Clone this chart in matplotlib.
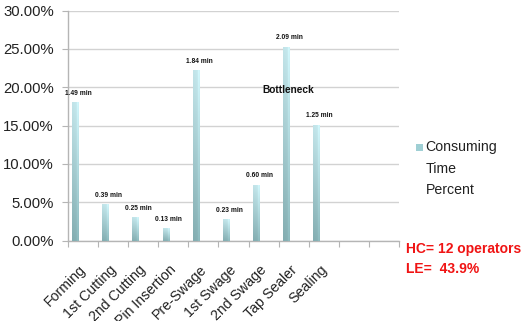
import numpy as np
import matplotlib
matplotlib.use("Agg")
import matplotlib.pyplot as plt
from matplotlib.patches import Rectangle
from matplotlib.ticker import FixedLocator, FuncFormatter

# Station names (two trailing empty slots on the category axis)
stations = ["Forming", "1st Cutting", "2nd Cutting", "Pin Insertion", "Pre-Swage",
            "1st Swage", "2nd Swage", "Tap Sealer", "Sealing", "", ""]
# Cycle time per station (minutes) and its share of the total line time (%)
cycle_min = [1.49, 0.39, 0.25, 0.13, 1.84, 0.23, 0.60, 2.09, 1.25]
time_pct = [18.02, 4.72, 3.02, 1.57, 22.25, 2.78, 7.26, 25.27, 15.11]
y_ticks = [0, 5, 10, 15, 20, 25, 30]
series_name = ["Consuming", "Time", "Percent"]
line_notes = ["HC= 12 operators", "LE=  43.9%"]

REGULAR = ["Liberation Sans", "DejaVu Sans"]
plt.rcParams["font.family"] = REGULAR

W, H = 521, 321
fig = plt.figure(figsize=(W / 100, H / 100), dpi=100)
ax = fig.add_axes([67.7 / W, 1 - 240.5 / H, (399.3 - 67.7) / W, (240.5 - 10.7) / H])

n_slots = len(stations)

# Bars drawn left of the slot centre, then filled with a cylinder-like gradient
xs = np.arange(len(time_pct)) - 0.245
bar_w = 0.22
bars = ax.bar(xs, time_pct, width=bar_w, color="none", edgecolor="none", zorder=3)

top_c = np.array([0.78, 0.92, 0.94])
bot_c = np.array([0.53, 0.70, 0.715])
ny, nx = 64, 16
v = np.linspace(0, 1, ny)[:, None, None]           # 0 bottom -> 1 top
u = np.linspace(0, 1, nx)[None, :, None]
base = bot_c + (top_c - bot_c) * v
shade = 1.0 + 0.08 * np.exp(-((u - 0.85) / 0.12) ** 2) - 0.03 * (1 - u)
grad = np.clip(base * shade, 0, 1)
for b in bars:
    x0, y0 = b.get_x(), b.get_y()
    im = ax.imshow(grad, origin="lower", aspect="auto", interpolation="bilinear",
                   extent=[x0, x0 + b.get_width(), y0, y0 + b.get_height()], zorder=3)
    im.set_clip_path(b)
ax.set_xlim(-0.5, n_slots - 0.5)
ax.set_ylim(0, 30)

# Value labels in minutes
for x, p, m in zip(xs, time_pct, cycle_min):
    ax.annotate(f"{m:.2f} min", (x, p), xytext=(3, 9), textcoords="offset pixels",
                ha="center", va="center", fontsize=4.8, fontweight="bold",
                color="#111111", zorder=5)

ax.text(6.81, 19.65, "Bottleneck", ha="center", va="center", fontsize=7.3,
        fontweight="bold", color="#111111", zorder=5)

# Axes styling
for s in ("top", "right"):
    ax.spines[s].set_visible(False)
for s in ("left", "bottom"):
    ax.spines[s].set_color("#b5b5b5")
    ax.spines[s].set_linewidth(1.0)

ax.set_yticks(y_ticks)
ax.yaxis.set_major_formatter(FuncFormatter(lambda v, _: f"{v:.2f}%"))
ax.tick_params(axis="y", length=4, color="#b5b5b5", pad=6, labelsize=10.7,
               labelcolor="#222222")
ax.yaxis.grid(True, color="#d2d2d2", linewidth=1.0, zorder=0)
ax.set_axisbelow(True)

bounds = np.arange(-0.5, n_slots, 1.0)
ax.xaxis.set_major_locator(FixedLocator(bounds))
ax.xaxis.set_major_formatter(FuncFormatter(lambda v, _: ""))
ax.tick_params(axis="x", which="major", length=4, color="#b5b5b5")
ax.set_xticks(np.arange(n_slots) + 0.03, stations, minor=True)
ax.tick_params(axis="x", which="minor", length=0, pad=19.5, labelsize=10.2,
               labelcolor="#222222")
for lab in ax.get_xticklabels(minor=True):
    lab.set_rotation(45)
    lab.set_ha("right")
    lab.set_va("center")
    lab.set_rotation_mode("anchor")

# Series key
fig.patches.append(Rectangle((416 / W, 1 - 150.5 / H), 6.5 / W, 6.5 / H,
                             transform=fig.transFigure, facecolor="#9fcfd4",
                             edgecolor="none"))
for i, word in enumerate(series_name):
    fig.text(425.7 / W, 1 - (147.5 + 21.3 * i) / H, word, ha="left", va="center",
             fontsize=10.2, color="#222222")

# Line summary
for i, note in enumerate(line_notes):
    fig.text(405.7 / W, 1 - (249 + 20 * i) / H, note, ha="left", va="center",
             fontsize=10, fontweight="bold", color="#f01414")

fig.savefig("out.png", dpi=100)
